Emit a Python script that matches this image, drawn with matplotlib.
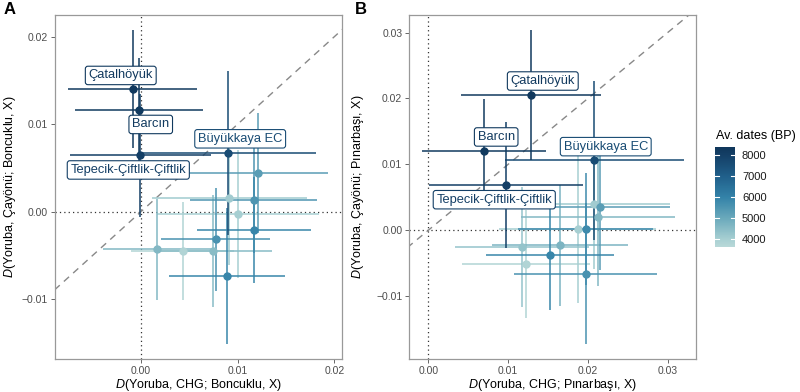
import numpy as np
import matplotlib
matplotlib.use("Agg")
import matplotlib.pyplot as plt
from matplotlib.colors import LinearSegmentedColormap, Normalize
from matplotlib.colorbar import ColorbarBase

plt.rcParams['font.family'] = ['Liberation Sans', 'DejaVu Sans']
plt.rcParams['mathtext.fontset'] = 'custom'
plt.rcParams['mathtext.it'] = 'Liberation Sans:italic'
plt.rcParams['mathtext.rm'] = 'Liberation Sans'

# ---- data: panel A (Boncuklu) ----
a_x    = [-0.00086, -0.00018, -0.00007, 0.00903, 0.01213, 0.00913, 0.01165, 0.01006, 0.01165, 0.00772, 0.00169, 0.00430, 0.00750, 0.00892]
a_y    = [0.01402, 0.01162, 0.00645, 0.00671, 0.00442, 0.00153, 0.00130, -0.00030, -0.00210, -0.00316, -0.00430, -0.00450, -0.00450, -0.00735]
a_xerr = [0.0067, 0.0066, 0.0073, 0.0091, 0.0072, 0.0080, 0.0066, 0.0084, 0.0059, 0.0056, 0.0056, 0.0053, 0.0061, 0.0060]
a_yerr = [0.0067, 0.0060, 0.0070, 0.0094, 0.0069, 0.0076, 0.0060, 0.0073, 0.0061, 0.0059, 0.0058, 0.0056, 0.0064, 0.0078]
a_date = [8250, 8200, 8000, 7600, 5300, 4100, 5500, 4000, 5900, 5600, 4600, 3800, 4500, 5900]

# ---- data: panel B (Pinarbasi) ----
b_x    = [0.01287, 0.00698, 0.00974, 0.02080, 0.01872, 0.01972, 0.01178, 0.01650, 0.01529, 0.01228, 0.01972, 0.02080, 0.02152, 0.02127]
b_y    = [0.02053, 0.01203, 0.00687, 0.01062, 0.00020, 0.00020, -0.00249, -0.00228, -0.00380, -0.00510, -0.00663, 0.00399, 0.00358, 0.00206]
b_xerr = [0.0088, 0.0078, 0.0096, 0.0112, 0.0098, 0.0085, 0.0084, 0.0085, 0.0080, 0.0080, 0.0090, 0.0095, 0.0088, 0.0097]
b_yerr = [0.0098, 0.0079, 0.0096, 0.0121, 0.0112, 0.0085, 0.0091, 0.0092, 0.0083, 0.0082, 0.0107, 0.0098, 0.0096, 0.0105]
b_date = [8250, 8200, 8000, 7600, 4000, 5800, 4300, 4700, 5900, 3800, 5600, 4100, 5300, 4600]

site_names = ["Çatalhöyük", "Barcın", "Tepecik-Çiftlik-Çiftlik", "Büyükkaya EC"]
a_label_pos = [(-0.00209, 0.01557), (0.00101, 0.00997), (-0.00131, 0.00477), (0.01026, 0.00833)]
b_label_pos = [(0.01435, 0.02265), (0.00851, 0.01416), (0.00827, 0.00464), (0.02224, 0.01269)]

cbar_ticks = [4000, 5000, 6000, 7000, 8000]

cmap = LinearSegmentedColormap.from_list(
    "dates",
    [(0.00, "#b8d8d8"), (0.074, "#a7cfd2"), (0.286, "#6aa9bb"),
     (0.498, "#3382a8"), (0.71, "#205f8a"), (0.923, "#143f66"), (1.0, "#0f375b")])
norm = Normalize(vmin=3650, vmax=8365)

fig = plt.figure(figsize=(8, 3.92), dpi=100)
axA = fig.add_axes([0.06875, 0.0842, 0.35875, 0.8776])
axB = fig.add_axes([0.5116, 0.0842, 0.358, 0.8776])


def fmt(t):
    return "%.2f" % t if t >= 0 else "\u2212%.2f" % -t


def draw_panel(ax, xs, ys, xe, ye, dates, label_pos, xlim, ylim, xticks, yticks, tag, ylab_x):
    ax.axhline(0, color="#333333", ls=(0, (1, 2.5)), lw=0.9, zorder=1)
    ax.axvline(0, color="#333333", ls=(0, (1, 2.5)), lw=0.9, zorder=1)
    lo = min(xlim[0], ylim[0]); hi = max(xlim[1], ylim[1])
    ax.plot([lo, hi], [lo, hi], color="#888888", ls=(0, (5, 4)), lw=1.0, zorder=1)
    order = np.argsort(dates)
    for i in order:
        c = cmap(norm(dates[i]))
        ax.errorbar(xs[i], ys[i], xerr=xe[i], yerr=ye[i], fmt="o", color=c,
                    ms=5, elinewidth=1.1, capsize=0, zorder=2)
    for i, name in enumerate(site_names):
        c = cmap(norm(dates[i]))
        ax.text(label_pos[i][0], label_pos[i][1], name, ha="center", va="center",
                fontsize=9.3, color=c, zorder=5,
                bbox=dict(boxstyle="round,pad=0.25,rounding_size=0.2", fc="white", ec=c, lw=0.8))
    ax.set_xlim(xlim)
    ax.set_ylim(ylim)
    ax.set_xticks(xticks)
    ax.set_yticks(yticks)
    ax.set_xticklabels([fmt(t) for t in xticks])
    ax.set_yticklabels([fmt(t) for t in yticks])
    ax.tick_params(colors="#4d4d4d", labelsize=7.5, length=3, width=0.6, pad=2)
    for s in ax.spines.values():
        s.set_color("#999999")
        s.set_linewidth(0.9)
    ax.set_xlabel(r"$D$(Yoruba, CHG; %s, X)" % tag, fontsize=9, labelpad=1)
    ax.set_ylabel(r"$D$(Yoruba, Çayönü; %s, X)" % tag, fontsize=9)
    ax.yaxis.set_label_coords(ylab_x, 0.5)


draw_panel(axA, a_x, a_y, a_xerr, a_yerr, a_date, a_label_pos,
           (-0.00889, 0.02079), (-0.01683, 0.02248),
           [0.0, 0.01, 0.02], [-0.01, 0.0, 0.01, 0.02], "Boncuklu", -0.13)
draw_panel(axB, b_x, b_y, b_xerr, b_yerr, b_date, b_label_pos,
           (-0.00238, 0.03351), (-0.01953, 0.03267),
           [0.0, 0.01, 0.02, 0.03], [-0.01, 0.0, 0.01, 0.02, 0.03], "Pınarbaşı", -0.152)

fig.text(0.005, 0.995, "A", fontsize=12, fontweight="bold", va="top", ha="left")
fig.text(0.443, 0.995, "B", fontsize=12, fontweight="bold", va="top", ha="left")

cax = fig.add_axes([0.89375, 0.3707, 0.025, 0.2536])
cb = ColorbarBase(cax, cmap=cmap, norm=norm, orientation="vertical")
cb.set_ticks(cbar_ticks)
cb.outline.set_visible(False)
cax.tick_params(length=0, labelsize=8, colors="#1a1a1a", pad=5)
for t in cbar_ticks:
    cax.plot([0, 0.2], [t, t], color="white", lw=0.8)
    cax.plot([0.8, 1.0], [t, t], color="white", lw=0.8)
cax.set_xlim(0, 1)
fig.text(0.895, 0.653, "Av. dates (BP)", fontsize=9, ha="left", va="center")

fig.savefig("out.png", dpi=100)
